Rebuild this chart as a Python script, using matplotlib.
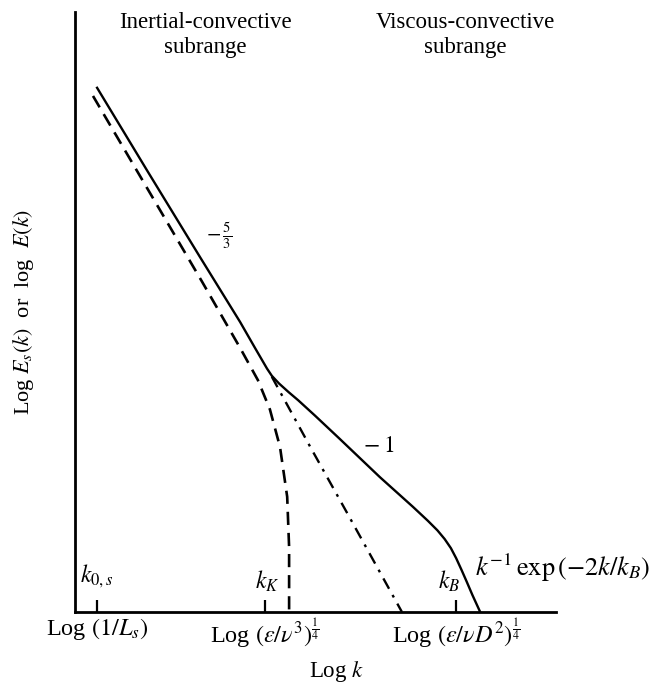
import matplotlib
matplotlib.use("Agg")
import matplotlib.pyplot as plt

plt.rcParams['font.family'] = ['Liberation Serif', 'DejaVu Serif']
plt.rcParams['mathtext.fontset'] = 'stix'

# log k / log E (arbitrary units)
solid_x = [0.46, 1.5, 2.6, 3.44, 3.75, 4.0, 4.10, 4.25, 4.45, 4.65, 5.0, 5.5, 6.35, 7.04,
           7.35, 7.55, 7.70, 7.83, 7.94, 8.05, 8.16, 8.28, 8.44]
solid_y = [10.92, 9.2, 7.40, 6.04, 5.50, 5.07, 4.92, 4.76, 4.58, 4.41, 4.09, 3.62, 2.81, 2.19,
           1.90, 1.70, 1.52, 1.33, 1.12, 0.88, 0.63, 0.35, 0.0]

dashed_x = [0.375, 2.65, 3.44, 3.81, 4.06, 4.27, 4.42, 4.46, 4.46]
dashed_y = [10.75, 6.875, 5.5, 4.83, 4.22, 3.44, 2.40, 1.35, 0.0]

dashdot_x = [4.10, 4.90, 5.67, 6.81]
dashdot_y = [4.90, 3.44, 2.06, 0.0]

tick_pos = [0.46, 3.96, 7.94]
tick_labels = [r'Log $(1/L_s)$',
               r'Log $(\epsilon/\nu^3)^{\frac{1}{4}}$',
               r'Log $(\epsilon/\nu D^2)^{\frac{1}{4}}$']

fig = plt.figure(figsize=(6.62, 6.87), dpi=100)
ax = fig.add_axes([0.1133, 0.1092, 0.7266, 0.8734])

ax.plot(solid_x, solid_y, color='black', lw=1.7, solid_joinstyle='round')
ax.plot(dashed_x, dashed_y, color='black', lw=1.9, dashes=(5, 3))
ax.plot(dashdot_x, dashdot_y, color='black', lw=1.7, dashes=(5, 3, 1.2, 3))

ax.set_xlim(0, 10.02)
ax.set_ylim(0, 12.5)
for s in ['top', 'right']:
    ax.spines[s].set_visible(False)
for s in ['left', 'bottom']:
    ax.spines[s].set_linewidth(2.0)

ax.set_yticks([])
ax.set_xticks(tick_pos)
ax.set_xticklabels(tick_labels, fontsize=17.5)
ax.tick_params(axis='x', direction='in', length=9, width=1.6, pad=3)

fig.text(0.508, 1 - 671 / 687, r'Log $k$', fontsize=16.5, ha='center', va='center')
ax.set_ylabel(r'Log $E_s(k)$  or  log  $E(k)$', fontsize=16, labelpad=28)

# wavenumber markers
ax.text(0.46, 0.45, r'$k_{0,s}$', fontsize=17, ha='center', va='bottom')
ax.text(4.0, 0.38, r'$k_K$', fontsize=17, ha='center', va='bottom')
ax.text(7.80, 0.38, r'$k_B$', fontsize=17, ha='center', va='bottom')

# slope labels
ax.text(2.72, 7.85, r'$-\,\frac{5}{3}$', fontsize=15, ha='left', va='center')
ax.text(6.0, 3.44, r'$-\;1$', fontsize=17, ha='left', va='center')
ax.text(8.33, 0.92, r'$k^{-1}\,\mathrm{exp}\,(-2k/k_B)$', fontsize=19, ha='left', va='center')

# subrange headings
fig.text(0.31, 0.949, 'Inertial-convective\nsubrange', fontsize=16.5,
         ha='center', va='center', linespacing=1.25)
fig.text(0.703, 0.949, 'Viscous-convective\nsubrange', fontsize=16.5,
         ha='center', va='center', linespacing=1.25)

fig.savefig('out.png', dpi=100)
